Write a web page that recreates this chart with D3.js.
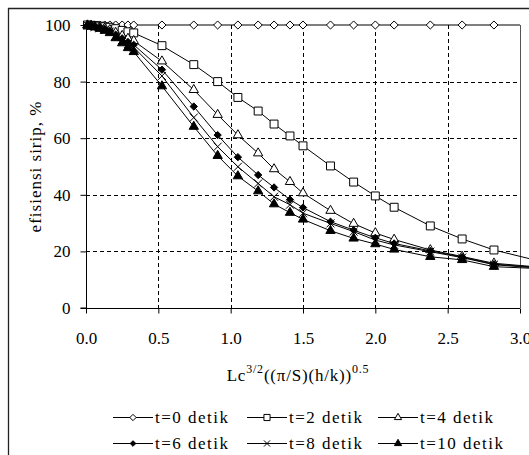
<!DOCTYPE html>
<html>
<head>
<meta charset="utf-8">
<script src="https://d3js.org/d3.v7.min.js"></script>
<style>
  body { margin: 0; background: #fff; }
  text { font-family: "Liberation Serif", "Times New Roman", serif; fill: #000; }
</style>
</head>
<body>
<div id="chart"></div>
<script>
//chart data
var xVals = [0.01, 0.035, 0.06, 0.095, 0.13, 0.165, 0.205, 0.25, 0.29, 0.33,
             0.525, 0.745, 0.91, 1.05, 1.19, 1.30, 1.41, 1.50, 1.69, 1.85,
             2.00, 2.13, 2.38, 2.60, 2.82, 3.10];

var t0  = [100, 100, 100, 100, 100, 100, 100, 100, 100, 100,
           100, 100, 100, 100, 100, 100, 100, 100, 100, 100,
           100, 100, 100, 100, 100, 100];
var t2  = [100, 99.9, 99.8, 99.6, 99.4, 99.2, 98.7, 98.1, 97.6, 97.2,
           92.7, 86, 80, 74.4, 69.6, 65, 60.8, 57.3, 50.2, 44.5,
           39.6, 35.6, 29, 24.4, 20.5, 17];
var t4  = [99.9, 99.8, 99.5, 99.2, 98.8, 98.3, 97.3, 96.2, 95.2, 94.4,
           87.2, 77.1, 68.3, 61.1, 54.7, 49.1, 44.6, 40.6, 34.4, 29.8,
           26.5, 24.2, 20.5, 18.2, 15.8, 14.6];
var t6  = [99.9, 99.7, 99.4, 99.0, 98.5, 97.9, 96.6, 95.3, 94.0, 93.0,
           84.2, 71.2, 61.1, 53.3, 47, 42.6, 38.3, 35.5, 30.5, 27.5,
           24.8, 22.8, 20.2, 18.0, 15.5, 14.4];
var t8  = [99.9, 99.7, 99.3, 98.9, 98.3, 97.7, 96.2, 94.7, 93.3, 92.1,
           82, 67.3, 57, 49.9, 44, 39.3, 36.5, 33.5, 29.9, 27,
           24, 22.3, 19.9, 17.8, 15.3, 14.2];
var t10 = [99.9, 99.6, 99.2, 98.7, 98.0, 97.2, 95.4, 93.6, 91.9, 90.5,
           78.4, 64.1, 53.8, 46.6, 41.3, 36.7, 33.7, 31.3, 27.3, 24.6,
           22.6, 20.7, 18.1, 17.0, 14.6, 14.0];

var seriesNames = ["t=0 detik", "t=2 detik", "t=4 detik", "t=6 detik", "t=8 detik", "t=10 detik"];
var seriesValues = [t0, t2, t4, t6, t8, t10];

var xTicks = [0, 0.5, 1, 1.5, 2, 2.5, 3];
var yTicks = [0, 20, 40, 60, 80, 100];

//marker style per series
var markers = [
  {type: d3.symbolDiamond2 || d3.symbolDiamond, size: 42, fill: "#fff"},
  {type: d3.symbolSquare2 || d3.symbolSquare, size: 80, fill: "#fff"},
  {type: d3.symbolTriangle2 || d3.symbolTriangle, size: 62, fill: "#fff"},
  {type: d3.symbolDiamond2 || d3.symbolDiamond, size: 34, fill: "#000"},
  {type: d3.symbolTimes || d3.symbolCross, size: 44, fill: "none"},
  {type: d3.symbolTriangle2 || d3.symbolTriangle, size: 62, fill: "#000"}
];

//sizes
var width = 529,
    height = 455;
var plot = {left: 86, right: 520, top: 25, bottom: 308};

var svg = d3.select("#chart").append("svg")
    .attr("width", width)
    .attr("height", height);

//outer chart border (goes off the picture to the right and bottom)
svg.append("path")
    .attr("d", "M8.5," + height + "V8.5H" + width)
    .attr("fill", "none")
    .attr("stroke", "#222")
    .attr("stroke-width", 1.3);

var x = d3.scaleLinear().domain([0, 3]).range([plot.left, plot.right]);
var y = d3.scaleLinear().domain([0, 100]).range([plot.bottom, plot.top]);

//clip for the t=0 line
svg.append("clipPath").attr("id", "plotclip")
  .append("rect")
    .attr("x", plot.left).attr("y", plot.top - 10)
    .attr("width", plot.right - plot.left).attr("height", plot.bottom - plot.top + 10);

//plot area right border
svg.append("line")
    .attr("x1", plot.right + 0.5).attr("x2", plot.right + 0.5)
    .attr("y1", plot.top).attr("y2", plot.bottom)
    .attr("stroke", "#555");

//grid lines
var grid = svg.append("g").attr("class", "grid")
    .attr("stroke", "#000")
    .attr("stroke-dasharray", "4,3")
    .attr("shape-rendering", "crispEdges");

grid.selectAll("line.h")
    .data(yTicks.filter(function(d){ return d > 0 && d < 100; }))
    .enter().append("line")
    .attr("class", "h")
    .attr("x1", plot.left).attr("x2", plot.right)
    .attr("y1", function(d){ return Math.round(y(d)) + 0.5; })
    .attr("y2", function(d){ return Math.round(y(d)) + 0.5; });

grid.selectAll("line.v")
    .data(xTicks.filter(function(d){ return d > 0 && d < 3; }))
    .enter().append("line")
    .attr("class", "v")
    .attr("y1", plot.top).attr("y2", plot.bottom)
    .attr("x1", function(d){ return Math.round(x(d)) + 0.5; })
    .attr("x2", function(d){ return Math.round(x(d)) + 0.5; });

//axes
var yAxis = svg.append("g")
    .attr("transform", "translate(" + (plot.left + 0.5) + ",0)")
    .call(d3.axisLeft(y).tickValues(yTicks).tickSize(6).tickPadding(10).tickFormat(d3.format("d")));

var xAxis = svg.append("g")
    .attr("transform", "translate(0," + (plot.bottom + 0.5) + ")")
    .call(d3.axisBottom(x).tickValues(xTicks).tickSize(5).tickPadding(18).tickFormat(d3.format(".1f")));

[xAxis, yAxis].forEach(function(a){
  a.select(".domain").attr("stroke", "#000");
  a.selectAll(".tick line").attr("stroke", "#000");
  a.selectAll(".tick text")
      .style("font-family", '"Liberation Serif", serif')
      .style("font-size", "17px")
      .attr("fill", "#000");
});
yAxis.select(".domain").attr("d", "M-6," + y(0) + "H0V" + y(100));
xAxis.select(".domain").attr("d", "M" + x(0) + ",0H" + x(3));

//series lines and markers
var line = d3.line()
    .x(function(d){ return x(d[0]); })
    .y(function(d){ return y(d[1]); });

seriesValues.forEach(function(vals, i){
  var pts = xVals.map(function(xv, j){ return [xv, vals[j]]; });
  var g = svg.append("g").attr("class", "series");
  var p = g.append("path")
      .datum(pts)
      .attr("d", line)
      .attr("fill", "none")
      .attr("stroke", "#000")
      .attr("stroke-width", 1);
  if (i === 0) p.attr("clip-path", "url(#plotclip)");

  var m = markers[i];
  g.selectAll("path.m")
      .data(pts)
      .enter().append("path")
      .attr("class", "m")
      .attr("d", d3.symbol().type(m.type).size(m.size))
      .attr("transform", function(d){ return "translate(" + x(d[0]) + "," + y(d[1]) + ")"; })
      .attr("fill", m.fill)
      .attr("stroke", "#000")
      .attr("stroke-width", 1);
});

//axis titles
svg.append("text")
    .attr("transform", "translate(41," + ((plot.top + plot.bottom) / 2) + ") rotate(-90)")
    .attr("text-anchor", "middle")
    .style("font-size", "17px")
    .style("letter-spacing", "1px")
    .text("efisiensi sirip, %");

var xt = svg.append("text")
    .attr("x", 298).attr("y", 381)
    .attr("text-anchor", "middle")
    .style("font-size", "17px")
    .style("letter-spacing", "0.8px");
xt.append("tspan").text("Lc");
xt.append("tspan").attr("dy", -8).style("font-size", "12px").text("3/2");
xt.append("tspan").attr("dy", 8).text("((π/S)(h/k))");
xt.append("tspan").attr("dy", -8).style("font-size", "12px").text("0.5");

//legend
var legCols = [113, 247, 378],
    legRows = [417, 443];

var legend = svg.selectAll("g.leg")
    .data(seriesNames)
    .enter().append("g")
    .attr("class", "leg")
    .attr("transform", function(d, i){
      return "translate(" + legCols[i % 3] + "," + legRows[Math.floor(i / 3)] + ")";
    });

legend.append("line")
    .attr("x1", 0).attr("x2", 40)
    .attr("y1", 0.5).attr("y2", 0.5)
    .attr("stroke", "#000");

legend.append("path")
    .attr("d", function(d, i){ return d3.symbol().type(markers[i].type).size(markers[i].size * 0.6)(); })
    .attr("transform", "translate(20,0.5)")
    .attr("fill", function(d, i){ return markers[i].fill; })
    .attr("stroke", "#000");

legend.append("text")
    .attr("x", 42).attr("y", 6)
    .style("font-size", "17px")
    .style("letter-spacing", "1.5px")
    .text(function(d){ return d; });
</script>
</body>
</html>
